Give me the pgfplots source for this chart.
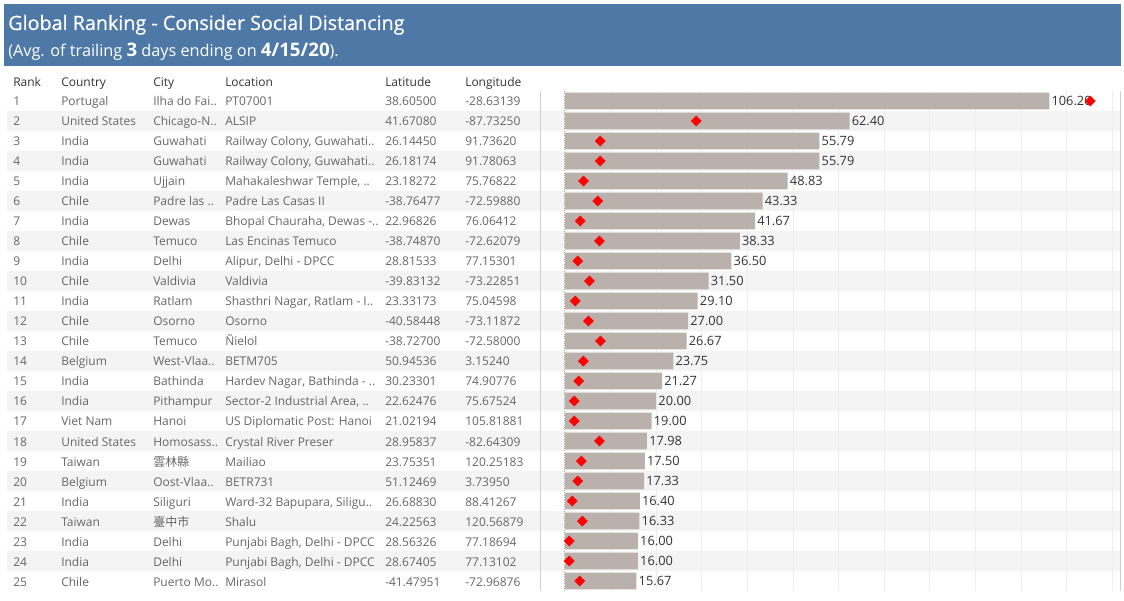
\documentclass[border=0pt]{standalone}
\usepackage{pgfplots}
\pgfplotsset{compat=1.18}
\usepackage{fontspec}
\setmainfont{Open Sans}
\newfontfamily\cjk{Noto Sans CJK TC}
\definecolor{hdr}{HTML}{4E79A7}
\definecolor{barc}{HTML}{BAB0AC}
\definecolor{rowshade}{HTML}{F4F4F4}
\definecolor{gridc}{HTML}{EDEDED}
\definecolor{txt}{HTML}{666666}
\definecolor{dark}{HTML}{333333}
\definecolor{sep}{HTML}{CFCFCF}
\newcommand\tfont{\fontsize{9}{11}\selectfont}
\newcommand\trow[6]{%
  \pgfmathsetmacro\yy{86+20*#1}%
  \node[anchor=base west,text=txt] at (13,\yy) {#1};
  \node[anchor=base west,text=txt] at (61,\yy) {#2};
  \node[anchor=base west,text=txt] at (153,\yy) {#3};
  \node[anchor=base west,text=txt] at (225,\yy) {#4};
  \node[anchor=base west,text=txt] at (385,\yy) {#5};
  \node[anchor=base west,text=txt] at (465,\yy) {#6};
}
\begin{document}
\begin{tikzpicture}
\begin{scope}[x=0.75pt,y=-0.75pt,every node/.style={inner sep=0pt,font=\tfont}]
\path[use as bounding box] (0,0) rectangle (1124,599);
\fill[hdr] (4,4) rectangle (1121,66);
\node[anchor=base west,text=white,font=\fontsize{14.8}{17}\selectfont] at (8,30) {\addfontfeature{FakeBold=0.6}Global Ranking - Consider Social Distancing};
\node[anchor=base west,text=white,font=\fontsize{12.2}{14}\selectfont] at (8,57) {(Avg. of trailing {\fontsize{14}{16}\selectfont\bfseries 3} days ending on {\fontsize{14}{16}\selectfont\bfseries 4/15/20}).};
% row shading
\foreach \r in {2,4,...,24} {
  \fill[rowshade] (7,71+20*\r) rectangle (1120,91+20*\r);
}
% header row
\foreach \t/\xx in {Rank/13,Country/61,City/153,Location/225,Latitude/385,Longitude/465}
  \node[anchor=base west,text=dark] at (\xx,87) {\t};
\trow{1}{Portugal}{Ilha do Fai..}{PT07001}{38.60500}{-28.63139}
\trow{2}{United States}{Chicago-N..}{ALSIP}{41.67080}{-87.73250}
\trow{3}{India}{Guwahati}{Railway Colony, Guwahati..}{26.14450}{91.73620}
\trow{4}{India}{Guwahati}{Railway Colony, Guwahati..}{26.18174}{91.78063}
\trow{5}{India}{Ujjain}{Mahakaleshwar Temple, ..}{23.18272}{75.76822}
\trow{6}{Chile}{Padre las ..}{Padre Las Casas II}{-38.76477}{-72.59880}
\trow{7}{India}{Dewas}{Bhopal Chauraha, Dewas -..}{22.96826}{76.06412}
\trow{8}{Chile}{Temuco}{Las Encinas Temuco}{-38.74870}{-72.62079}
\trow{9}{India}{Delhi}{Alipur, Delhi - DPCC}{28.81533}{77.15301}
\trow{10}{Chile}{Valdivia}{Valdivia}{-39.83132}{-73.22851}
\trow{11}{India}{Ratlam}{Shasthri Nagar, Ratlam - I..}{23.33173}{75.04598}
\trow{12}{Chile}{Osorno}{Osorno}{-40.58448}{-73.11872}
\trow{13}{Chile}{Temuco}{Ñielol}{-38.72700}{-72.58000}
\trow{14}{Belgium}{West-Vlaa..}{BETM705}{50.94536}{3.15240}
\trow{15}{India}{Bathinda}{Hardev Nagar, Bathinda - ..}{30.23301}{74.90776}
\trow{16}{India}{Pithampur}{Sector-2 Industrial Area, ..}{22.62476}{75.67524}
\trow{17}{Viet Nam}{Hanoi}{US Diplomatic Post: Hanoi}{21.02194}{105.81881}
\trow{18}{United States}{Homosass..}{Crystal River Preser}{28.95837}{-82.64309}
\trow{19}{Taiwan}{{\cjk 雲林縣}}{Mailiao}{23.75351}{120.25183}
\trow{20}{Belgium}{Oost-Vlaa..}{BETR731}{51.12469}{3.73950}
\trow{21}{India}{Siliguri}{Ward-32 Bapupara, Siligu..}{26.68830}{88.41267}
\trow{22}{Taiwan}{{\cjk 臺中市}}{Shalu}{24.22563}{120.56879}
\trow{23}{India}{Delhi}{Punjabi Bagh, Delhi - DPCC}{28.56326}{77.18694}
\trow{24}{India}{Delhi}{Punjabi Bagh, Delhi - DPCC}{28.67405}{77.13102}
\trow{25}{Chile}{Puerto Mo..}{Mirasol}{-41.47951}{-72.96876}
\draw[sep,line width=0.75pt] (540,91) -- (540,591);
\draw[sep,line width=0.75pt] (1120,91) -- (1120,591);
\end{scope}
\begin{axis}[at={(405pt,-443.25pt)}, anchor=south west, scale only axis,
  width=435pt, height=375pt,
  xmin=-5.48, xmax=121.7, ymin=0.5, ymax=25.5, y dir=reverse,
  bar width=12.4pt, axis line style={draw=none},
  xtick={10,20,...,120}, xticklabels={}, ytick=\empty, major tick length=0pt,
  xmajorgrids, grid style={gridc,line width=0.75pt},
  extra x ticks={0}, extra x tick labels={},
  extra x tick style={grid style={black!35,densely dotted,line width=0.75pt}},
  clip=false]
\addplot[xbar, bar shift=0pt, fill=barc, draw=none,
  nodes near coords={\pgfmathprintnumber[fixed,fixed zerofill,precision=2,assume math mode=true]{\pgfplotspointmeta}},
  point meta=explicit,
  every node near coord/.style={anchor=west,inner sep=0pt,xshift=1.5pt,text=dark,font=\fontsize{9.6}{11}\selectfont}]
 coordinates {
 (106.2,1) [106.2] (62.40,2) [62.40] (55.79,3) [55.79] (55.79,4) [55.79] (48.83,5) [48.83]
 (43.33,6) [43.33] (41.67,7) [41.67] (38.33,8) [38.33] (36.50,9) [36.50] (31.50,10) [31.50]
 (29.10,11) [29.10] (27.00,12) [27.00] (26.67,13) [26.67] (23.75,14) [23.75] (21.27,15) [21.27]
 (20.00,16) [20.00] (19.00,17) [19.00] (17.98,18) [17.98] (17.50,19) [17.50] (17.33,20) [17.33]
 (16.40,21) [16.40] (16.33,22) [16.33] (16.00,23) [16.00] (16.00,24) [16.00] (15.67,25) [15.67]
 };
\addplot[only marks, mark=square*, mark size=2.65pt, mark options={rotate=45,fill=red,draw=red}]
 coordinates {
 (115.2,1) (28.8,2) (7.75,3) (7.75,4) (4.07,5) (7.18,6) (3.37,7) (7.55,8) (2.78,9) (5.35,10)
 (2.27,11) (5.13,12) (7.77,13) (4.03,14) (3.0,15) (2.05,16) (2.05,17) (7.55,18) (3.59,19) (2.78,20)
 (1.61,21) (3.81,22) (0.95,23) (0.95,24) (3.22,25)
 };
\end{axis}
\end{tikzpicture}
\end{document}
